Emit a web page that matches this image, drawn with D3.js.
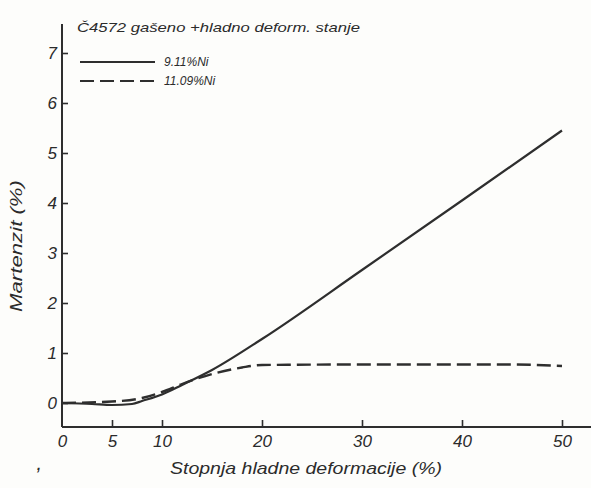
<!DOCTYPE html>
<html>
<head>
<meta charset="utf-8">
<script src="https://cdn.jsdelivr.net/npm/d3@7/dist/d3.min.js"></script>
<style>
  html, body { margin: 0; padding: 0; background: #fdfdfb; }
  svg { display: block; }
  text { font-family: "Liberation Sans Narrow", "Liberation Sans", "DejaVu Sans", sans-serif; font-style: italic; fill: #2b2b2b; }
</style>
</head>
<body>
<svg id="chart" width="591" height="488"></svg>
<script>
// Martensite content vs. degree of cold deformation, steel Č4572
const xTicks = [0, 5, 10, 20, 30, 40, 50];
const yTicks = [0, 1, 2, 3, 4, 5, 6, 7];

const seriesNames = ["9.11%Ni", "11.09%Ni"];

// 9.11 % Ni  — [deformation %, martensite %]
const ni911 = [
  [0, 0], [3, -0.02], [5, -0.04], [7, -0.02], [8, 0.04], [10, 0.17],
  [12, 0.36], [15, 0.66], [20, 1.28], [30, 2.66], [40, 4.05], [50, 5.45]
];

// 11.09 % Ni
const ni1109 = [
  [0, 0], [5, 0.03], [8, 0.1], [10, 0.22], [12, 0.38], [15, 0.58],
  [18, 0.71], [20, 0.76], [30, 0.77], [40, 0.77], [45, 0.77], [50, 0.74]
];

const svg = d3.select("#chart");
const ink = "#2e2e2e";

const x = d3.scaleLinear().domain([0, 50]).range([62, 562]);
const y = d3.scaleLinear().domain([0, 7]).range([403, 53]);
const axisY = 427;

// axis lines
svg.append("line")
  .attr("x1", x(0)).attr("x2", 591).attr("y1", axisY).attr("y2", axisY)
  .attr("stroke", ink).attr("stroke-width", 2);
svg.append("line")
  .attr("x1", x(0)).attr("x2", x(0)).attr("y1", 24).attr("y2", axisY)
  .attr("stroke", ink).attr("stroke-width", 2);

// x axis
const gx = svg.append("g")
  .attr("transform", `translate(0,${axisY})`)
  .call(d3.axisBottom(x).tickValues(xTicks).tickSize(-7).tickPadding(8).tickFormat(d3.format("d")));
gx.select(".domain").remove();
gx.selectAll(".tick line").attr("stroke", ink).attr("stroke-width", 1.6)
  .filter(d => d === 0).remove();
gx.selectAll(".tick text").attr("font-size", 17).attr("fill", ink).style("font-family", null);

// y axis
const gy = svg.append("g")
  .attr("transform", `translate(${x(0)},0)`)
  .call(d3.axisLeft(y).tickValues(yTicks).tickSize(-6).tickPadding(5).tickFormat(d3.format("d")));
gy.select(".domain").remove();
gy.selectAll(".tick line").attr("stroke", ink).attr("stroke-width", 1.6);
gy.selectAll(".tick text").attr("font-size", 17).attr("fill", ink).style("font-family", null);

// curves
const line = d3.line().x(d => x(d[0])).y(d => y(d[1])).curve(d3.curveMonotoneX);

svg.append("path").datum(ni911)
  .attr("d", line).attr("fill", "none")
  .attr("stroke", ink).attr("stroke-width", 2.2);

svg.append("path").datum(ni1109)
  .attr("d", line).attr("fill", "none")
  .attr("stroke", ink).attr("stroke-width", 2.4)
  .attr("stroke-dasharray", "14 6");

// legend
const legend = svg.append("g");
const legendRows = [
  { name: seriesNames[0], dash: null, yy: 62 },
  { name: seriesNames[1], dash: "14 6", yy: 81 }
];
legendRows.forEach(r => {
  legend.append("line")
    .attr("x1", 80).attr("x2", 155).attr("y1", r.yy).attr("y2", r.yy)
    .attr("stroke", ink).attr("stroke-width", 2)
    .attr("stroke-dasharray", r.dash);
  legend.append("text")
    .attr("x", 164).attr("y", r.yy + 4)
    .attr("font-size", 12)
    .text(r.name);
});

// heading
svg.append("text")
  .attr("x", 77).attr("y", 32)
  .attr("font-size", 13)
  .attr("textLength", 283).attr("lengthAdjust", "spacingAndGlyphs")
  .text("Č4572  gašeno +hladno  deform. stanje");

// axis titles
svg.append("text")
  .attr("x", 170).attr("y", 474)
  .attr("font-size", 17)
  .attr("textLength", 272).attr("lengthAdjust", "spacingAndGlyphs")
  .text("Stopnja hladne deformacije  (%)");

svg.append("text")
  .attr("transform", "translate(22,312) rotate(-90)")
  .attr("font-size", 16)
  .attr("textLength", 132).attr("lengthAdjust", "spacingAndGlyphs")
  .text("Martenzit  (%)");

svg.append("text")
  .attr("x", 37).attr("y", 470)
  .attr("font-size", 14)
  .attr("font-weight", "bold")
  .text(",");
</script>
</body>
</html>
